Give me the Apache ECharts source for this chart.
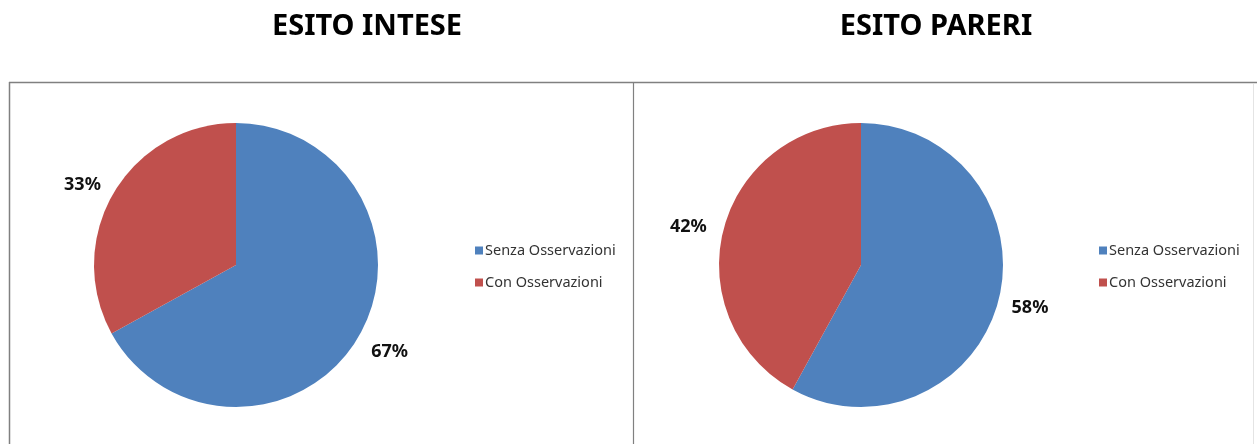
<!DOCTYPE html>
<html>
<head>
<meta charset="utf-8">
<title>Esito intese e pareri</title>
<script src="https://cdn.jsdelivr.net/npm/echarts@6/dist/echarts.min.js"></script>
<style>
  html, body { margin: 0; padding: 0; background: #fff; }
  #chart { width: 1257px; height: 444px; }
</style>
</head>
<body>
<div id="chart"></div>
<script>
// dati
const categories = ['Senza Osservazioni', 'Con Osservazioni'];
const inteseValues = [67, 33];
const pareriValues = [58, 42];
const titles = ['ESITO INTESE', 'ESITO PARERI'];

const colors = ['#4F81BD', '#C0504D'];
// distanza delle etichette (lunghezze della linea guida nascosta) per fetta
const inteseLabelPos = [[29, -12], [15, 0]];
const pareriLabelPos = [[31, -17], [11, 6]];

function pieData(values, labelPos) {
  return categories.map((name, i) => ({
    name: name,
    value: values[i],
    labelLine: { show: false, length: labelPos[i][0], length2: labelPos[i][1] }
  }));
}

function pieSeries(values, labelPos, center) {
  return {
    type: 'pie',
    radius: 142,
    center: center,
    startAngle: 90,
    clockwise: true,
    avoidLabelOverlap: false,
    label: {
      show: true,
      position: 'outside',
      formatter: '{d}%',
      fontFamily: 'Noto Sans',
      fontWeight: 'bold',
      fontSize: 18,
      color: '#111',
      distanceToLabelLine: 0
    },
    labelLine: { show: false },
    emphasis: { scale: false },
    data: pieData(values, labelPos)
  };
}

var myChart = echarts.init(document.getElementById('chart'));

myChart.setOption({
  backgroundColor: '#fff',
  color: colors,
  animation: false,
  title: [
    {
      text: titles[0], left: 362, top: 7, textAlign: 'center',
      textStyle: { fontFamily: 'Noto Sans', fontWeight: 'bold', fontSize: 29, color: '#000' }
    },
    {
      text: titles[1], left: 931, top: 7, textAlign: 'center',
      textStyle: { fontFamily: 'Noto Sans', fontWeight: 'bold', fontSize: 29, color: '#000' }
    }
  ],
  legend: [
    {
      orient: 'vertical', left: 470, top: 238,
      itemWidth: 8, itemHeight: 8, itemGap: 17, icon: 'rect',
      data: categories,
      textStyle: { fontFamily: 'Noto Sans', fontSize: 14.5, color: '#333', padding: [0, 0, 0, -3] }
    },
    {
      orient: 'vertical', left: 1094, top: 238,
      itemWidth: 8, itemHeight: 8, itemGap: 17, icon: 'rect',
      data: categories,
      textStyle: { fontFamily: 'Noto Sans', fontSize: 14.5, color: '#333', padding: [0, 0, 0, -3] }
    }
  ],
  // cornice dei due riquadri
  graphic: [
    { type: 'line', shape: { x1: 9, y1: 82.5, x2: 1257, y2: 82.5 }, style: { stroke: '#808080', lineWidth: 1.5 } },
    { type: 'line', shape: { x1: 9.5, y1: 82, x2: 9.5, y2: 444 }, style: { stroke: '#808080', lineWidth: 1.5 } },
    { type: 'line', shape: { x1: 633.5, y1: 82, x2: 633.5, y2: 444 }, style: { stroke: '#808080', lineWidth: 1.2 } },
    { type: 'line', shape: { x1: 1253.5, y1: 84, x2: 1253.5, y2: 444 }, style: { stroke: '#e4e4e4', lineWidth: 1 } }
  ],
  series: [
    pieSeries(inteseValues, inteseLabelPos, [236, 265]),
    pieSeries(pareriValues, pareriLabelPos, [861, 265])
  ]
});
</script>
</body>
</html>
